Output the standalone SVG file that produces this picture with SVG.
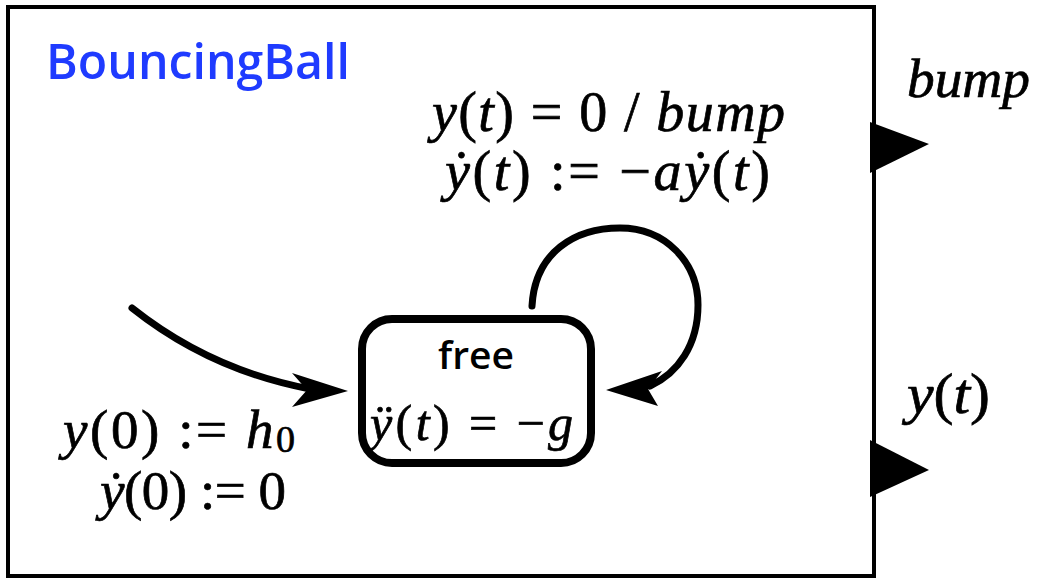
<svg xmlns="http://www.w3.org/2000/svg" width="1037" height="579" viewBox="0 0 1037 579">
  <style>
    .math { font-family: "Liberation Serif", "DejaVu Serif", serif; fill: #000; stroke: #000; stroke-width: 0.7; }
    .it { font-style: italic; }
    .sans { font-family: "Open Sans", "DejaVu Sans", sans-serif; font-weight: 600; }
    .line { fill: none; stroke: #000; stroke-width: 7; stroke-linecap: round; }
    .head { fill: #000; stroke: none; }
  </style>
  <rect width="1037" height="579" fill="#fff"/>
  <g id="block">
    <rect x="8" y="7" width="866" height="569" fill="#fff" stroke="#000" stroke-width="4"/>
    <text class="sans" x="46" y="79" font-size="48" fill="#1f3bff" textLength="304" lengthAdjust="spacingAndGlyphs">BouncingBall</text>
  </g>
  <g id="port-bump">
    <polygon class="head" points="870,122 929,144 870,173"/>
    <text class="math it" x="907" y="97" font-size="54" textLength="123" lengthAdjust="spacingAndGlyphs">bump</text>
  </g>
  <g id="port-y">
    <polygon class="head" points="870,440 929,470 870,497"/>
    <text class="math" x="907" y="413" font-size="56" textLength="83" lengthAdjust="spacingAndGlyphs"><tspan class="it">y</tspan>(<tspan class="it">t</tspan>)</text>
  </g>
  <g id="state-free">
    <rect x="362" y="319" width="229" height="144" rx="30" ry="30" fill="#fff" stroke="#000" stroke-width="8"/>
    <text class="sans" x="476" y="369" font-size="37" text-anchor="middle" textLength="76" lengthAdjust="spacingAndGlyphs">free</text>
    <text class="math" x="370" y="440" font-size="50" textLength="203" lengthAdjust="spacing"><tspan class="it">ÿ</tspan>(<tspan class="it">t</tspan>) = −<tspan class="it">g</tspan></text>
  </g>
  <g id="connectors">
    <g id="initial">
      <path class="line" d="M 132 308 Q 210 370 310 389"/>
      <polygon class="head" points="348,391 292,373 307,390 292,407"/>
    </g>
    <g id="self-loop">
      <path class="line" d="M 532 306 C 535 252 575 228 620 228 C 665 228 698 262 698 305 C 698 345 678 373 650 386"/>
      <polygon class="head" points="606,390 662,371 648,389 658,406"/>
    </g>
  </g>
  <g id="labels">
    <text class="math" x="432" y="131" font-size="56" textLength="353" lengthAdjust="spacing"><tspan class="it">y</tspan>(<tspan class="it">t</tspan>) = 0 / <tspan class="it">bump</tspan></text>
    <text class="math" x="445" y="190" font-size="56" textLength="325" lengthAdjust="spacing"><tspan class="it">ẏ</tspan>(<tspan class="it">t</tspan>) := −<tspan class="it">aẏ</tspan>(<tspan class="it">t</tspan>)</text>
    <text class="math" x="63" y="448" font-size="55" textLength="232" lengthAdjust="spacing"><tspan class="it">y</tspan>(0) := <tspan class="it">h</tspan><tspan font-size="38" dy="4">0</tspan></text>
    <text class="math" x="100" y="509" font-size="55" textLength="186" lengthAdjust="spacing"><tspan class="it">ẏ</tspan>(0) := 0</text>
  </g>
</svg>
